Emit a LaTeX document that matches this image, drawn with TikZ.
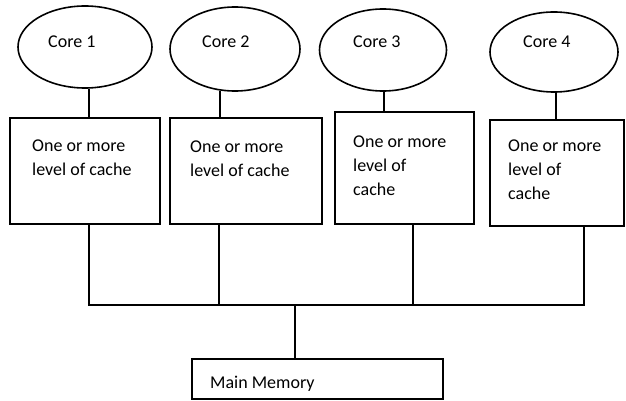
\documentclass[tikz,border=0pt]{standalone}
\usepackage{fontspec}
\setmainfont{Carlito}
\usetikzlibrary{shapes.geometric,calc}
\tikzset{
  core/.style={draw, ellipse, line width=1.6pt, inner sep=0pt},
  cachebox/.style={draw, rectangle, line width=1.6pt, inner sep=0pt},
  lbl/.style={anchor=base west, inner sep=0pt, font=\fontsize{18}{24}\selectfont, align=left},
  wire/.style={line width=1.8pt}
}
\begin{document}
\begin{tikzpicture}[x=1pt,y=-1pt]
\useasboundingbox (0,0) rectangle (626,401);
% cores
\node[core, minimum width=134pt, minimum height=82pt] (c1) at (85,47) {};
\node[core, minimum width=130pt, minimum height=84pt] (c2) at (235,49) {};
\node[core, minimum width=127pt, minimum height=82pt] (c3) at (383,50) {};
\node[core, minimum width=128pt, minimum height=80pt] (c4) at (554,52) {};
\node[lbl] (t1) at (48,48) {Core 1};
\node[lbl] (t2) at (202,48) {Core 2};
\node[lbl] (t3) at (353,48) {Core 3};
\node[lbl] (t4) at (523,48) {Core 4};
% cache boxes
\node[cachebox, minimum width=150pt, minimum height=106pt] (b1) at (85,171) {};
\node[cachebox, minimum width=152pt, minimum height=106pt] (b2) at (246,171) {};
\node[cachebox, minimum width=139pt, minimum height=112pt] (b3) at (404.5,168) {};
\node[cachebox, minimum width=134pt, minimum height=106pt] (b4) at (557,173) {};
% (base anchor = baseline of the last line)
\node[lbl] (l1) at (32,175) {One or more\\level of cache};
\node[lbl] (l2) at (190,176) {One or more\\level of cache};
\node[lbl] (l3) at (353,195) {One or more\\level of\\cache};
\node[lbl] (l4) at (508,199) {One or more\\level of\\cache};
% main memory
\node[cachebox, minimum width=251pt, minimum height=40pt] (mem) at (317.5,379) {};
\node[lbl] (lm) at (210,388) {Main Memory};
% core-to-cache links
\coordinate (k1) at (89,0);
\coordinate (k2) at (220,0);
\coordinate (k3) at (384,0);
\coordinate (k4) at (556,0);
\draw[wire] (c1.south -| k1) -- (b1.north -| k1);
\draw[wire] ($(c2.south -| k2)+(0,-1)$) -- (b2.north -| k2);
\draw[wire] (c3.south -| k3) -- (b3.north -| k3);
\draw[wire] (c4.south -| k4) -- (b4.north -| k4);
% bus
\coordinate (j1) at (89,305);
\coordinate (j2) at (219,305);
\coordinate (j3) at (413,305);
\coordinate (j4) at (584,305);
\coordinate (jm) at (295,305);
\draw[wire] (b1.south -| j1) -- (j1) -- (j4) -- (b4.south -| j4);
\draw[wire] (b2.south -| j2) -- (j2);
\draw[wire] (b3.south -| j3) -- (j3);
\draw[wire] (jm) -- (mem.north -| jm);
\end{tikzpicture}
\end{document}
